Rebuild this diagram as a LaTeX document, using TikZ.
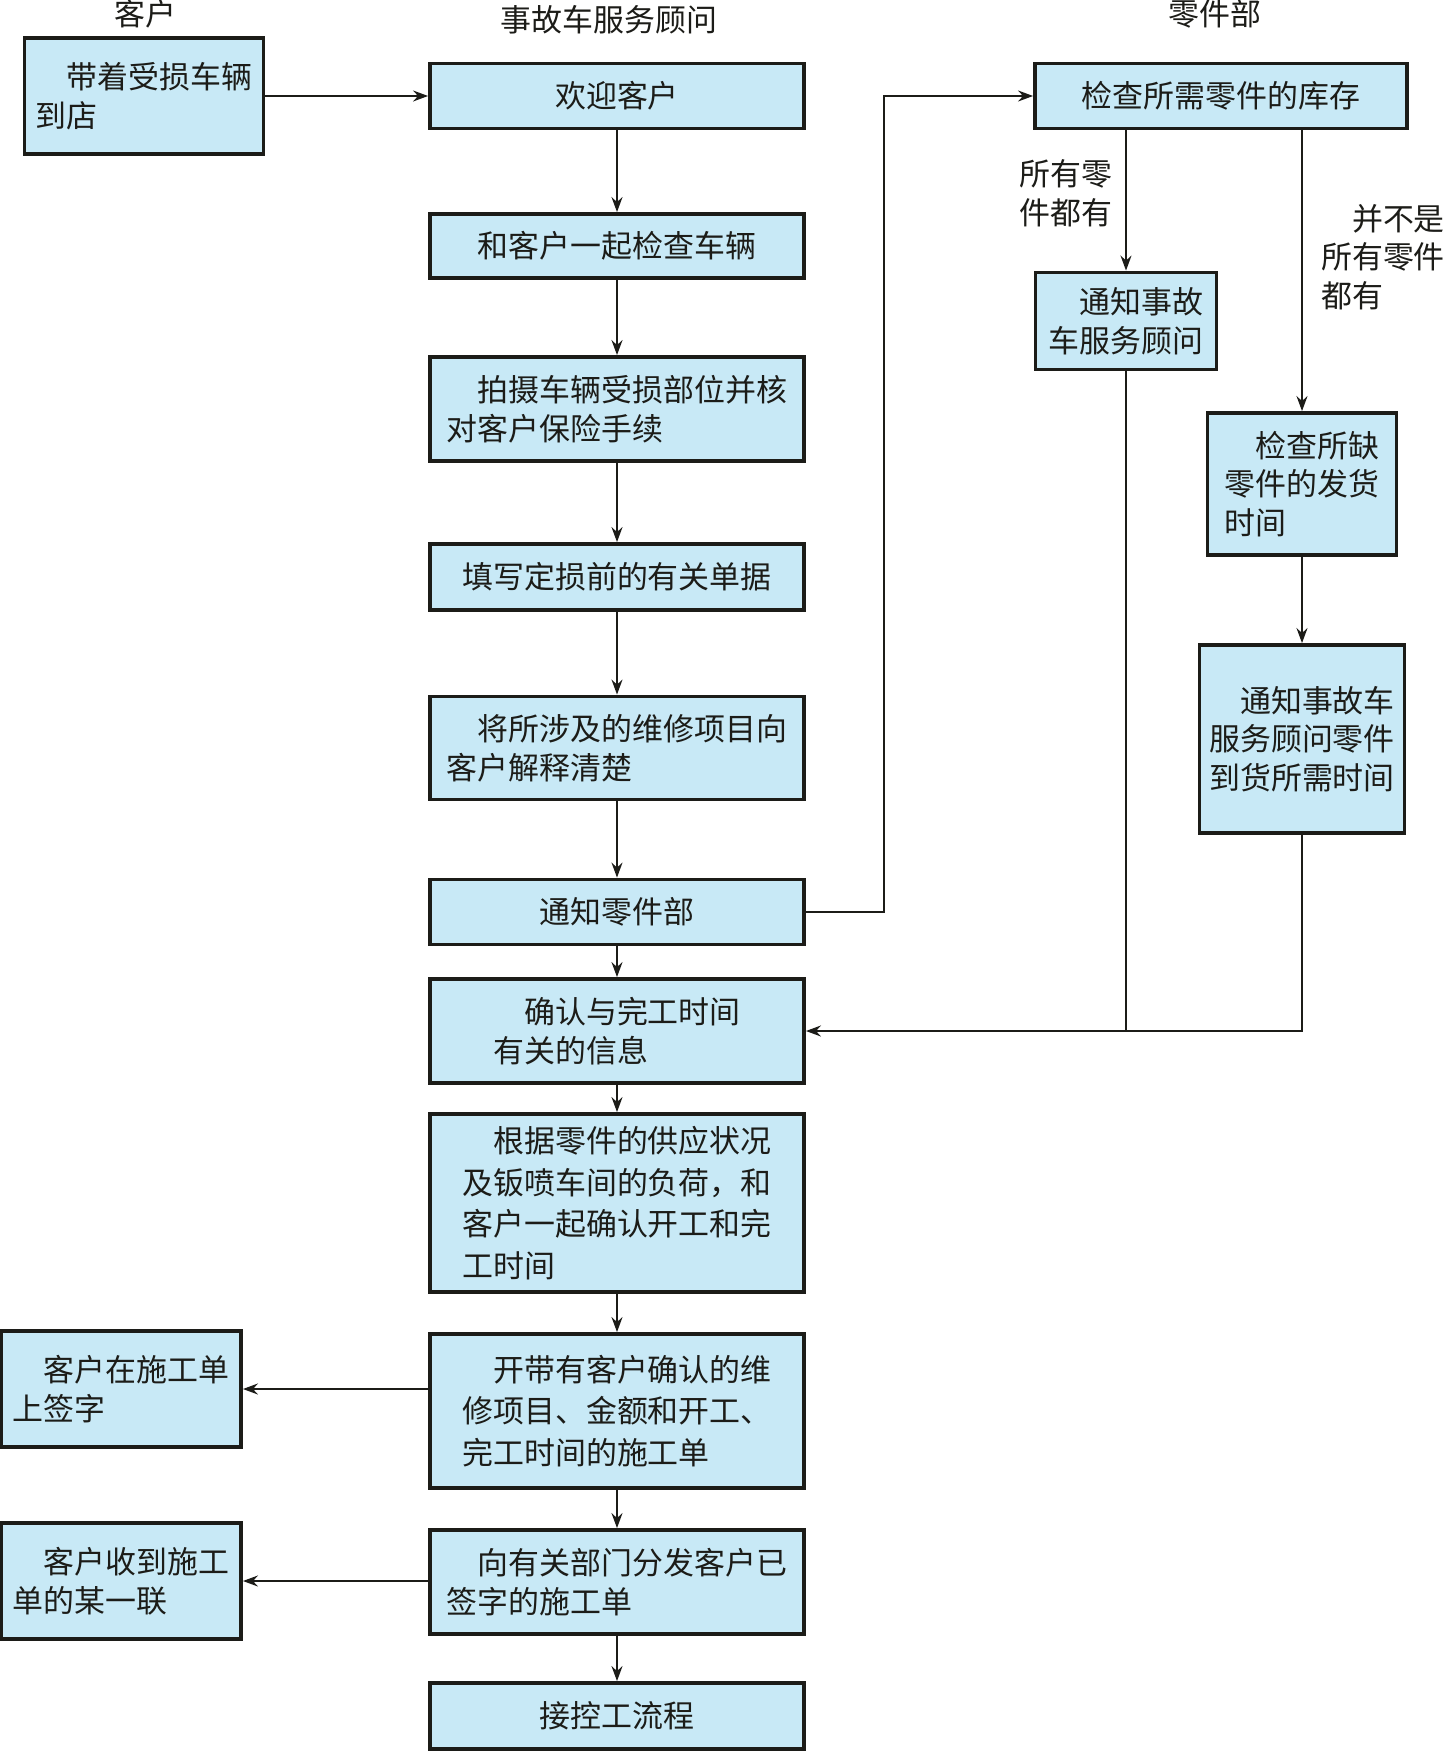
\documentclass[tikz,border=0pt]{standalone}
\usepackage{fontspec}
\setmainfont{Noto Sans CJK SC}
\usetikzlibrary{arrows.meta,positioning,calc}
\definecolor{boxfill}{RGB}{200,233,246}
\definecolor{inkline}{RGB}{28,28,24}
\newcommand{\indt}{\hspace*{1em}}

\begin{document}
\begin{tikzpicture}[x=0.1mm, y=-0.1mm, >={Stealth[length=1.5mm,width=1.1mm,inset=0.5mm]},
  font=\fontsize{8.8pt}{11pt}\selectfont,
  stepbox/.style={draw=inkline, line width=1.1pt, fill=boxfill, inner sep=2pt, align=left, text=inkline},
  mainbox/.style={stepbox, minimum width=37.4mm},
  widelines/.style={font=\fontsize{8.8pt}{11.8pt}\selectfont},
  flow/.style={->, line width=0.5pt, draw=inkline},
  header/.style={text=inkline},
  cond/.style={align=left, text=inkline, inner sep=0pt}]
  \useasboundingbox (0,0) rectangle (1445,1751);

  % column headers
  \node[header] (hcust) at (145,14) {客户};
  \node[header] (hsa) at (609,20) {事故车服务顾问};
  \node[header] (hparts) at (1215,14) {零件部};

  % customer
  \node[stepbox, minimum width=23.9mm, minimum height=11.6mm] (cust) at (144,96) {\indt 带着受损车辆\\到店};
  \node[stepbox, minimum width=24mm, minimum height=11.6mm] (sign) at (121,1389) {\indt 客户在施工单\\上签字};
  \node[stepbox, minimum width=24mm, minimum height=11.6mm] (receive) at (121,1581) {\indt 客户收到施工\\单的某一联};

  % service advisor
  \node[mainbox, minimum height=6.5mm] (welcome) at (617,96) {欢迎客户};
  \node[mainbox, minimum height=6.4mm] (inspect) at (617,246) {和客户一起检查车辆};
  \node[mainbox, minimum height=10.4mm] (photo) at (617,409) {\indt 拍摄车辆受损部位并核\\对客户保险手续};
  \node[mainbox, minimum height=6.6mm] (forms) at (617,577) {填写定损前的有关单据};
  \node[mainbox, minimum height=10.3mm] (explain) at (617,748) {\indt 将所涉及的维修项目向\\客户解释清楚};
  \node[mainbox, minimum height=6.5mm] (notify) at (617,912) {通知零件部};
  \node[mainbox, minimum height=10.4mm] (confirm) at (617,1031) {\indt 确认与完工时间\\有关的信息};
  \node[mainbox, widelines, minimum height=17.8mm] (schedule) at (617,1203) {\indt 根据零件的供应状况\\及钣喷车间的负荷，和\\客户一起确认开工和完\\工时间};
  \node[mainbox, widelines, minimum height=15.4mm] (order) at (617,1411) {\indt 开带有客户确认的维\\修项目、金额和开工、\\完工时间的施工单};
  \node[mainbox, minimum height=10.4mm] (distribute) at (617,1582) {\indt 向有关部门分发客户已\\签字的施工单};
  \node[mainbox, minimum height=6.6mm] (handover) at (617,1716) {接控工流程};

  % parts department
  \node[stepbox, minimum width=37.2mm, minimum height=6.5mm] (stock) at (1221,96) {检查所需零件的库存};
  \node[stepbox, minimum width=18.1mm, minimum height=9.7mm] (allok) at (1126,321) {\indt 通知事故\\车服务顾问};
  \node[stepbox, minimum width=18.9mm, minimum height=14.2mm] (missing) at (1302,484) {\indt 检查所缺\\零件的发货\\时间};
  \node[stepbox, minimum width=20.5mm, minimum height=18.8mm] (eta) at (1302,739) {\indt 通知事故车\\服务顾问零件\\到货所需时间};
  \node[cond] (lblall) at (1066,193) {所有零\\件都有};
  \node[cond] (lblmiss) at (1383,257) {\indt 并不是\\所有零件\\都有};

  % connectors
  \draw[flow] (cust) -- (welcome);
  \foreach \a/\b in {welcome/inspect, inspect/photo, photo/forms, forms/explain, explain/notify,
    notify/confirm, confirm/schedule, schedule/order, order/distribute, distribute/handover}
    \draw[flow] (\a) -- (\b);
  \draw[flow] (notify.east) -- ++(78,0) |- (stock.west);
  \draw[flow] (allok.north |- stock.south) -- (allok.north);
  \draw[flow] (missing.north |- stock.south) -- (missing.north);
  \draw[flow] (missing) -- (eta);
  \draw[flow] (eta.south) |- (confirm.east);
  \draw[flow, -] (allok.south) -- (allok.south |- confirm.east);
  \draw[flow] (order.west |- sign) -- (sign.east);
  \draw[flow] (distribute.west |- receive) -- (receive.east);
\end{tikzpicture}
\end{document}
